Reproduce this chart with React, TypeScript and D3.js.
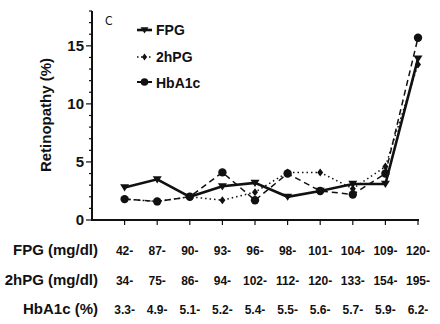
import React from "react";
import * as d3 from "d3";

const fpgLabels = ["42-", "87-", "90-", "93-", "96-", "98-", "101-", "104-", "109-", "120-"];
const hpgLabels = ["34-", "75-", "86-", "94-", "102-", "112-", "120-", "133-", "154-", "195-"];
const hbaLabels = ["3.3-", "4.9-", "5.1-", "5.2-", "5.4-", "5.5-", "5.6-", "5.7-", "5.9-", "6.2-"];

const fpgValues = [2.8, 3.5, 2.0, 2.9, 3.2, 2.0, 2.5, 3.1, 3.1, 13.9];
const hpgValues = [1.8, 1.6, 2.0, 1.7, 2.4, 4.1, 4.1, 2.7, 4.6, 13.4];
const hbaValues = [1.8, 1.6, 2.0, 4.1, 1.7, 4.0, 2.5, 2.2, 4.0, 15.7];

const yTicks = [0, 5, 10, 15];

const W = 440, H = 324;
const FONT = "'Liberation Sans', Arial, Helvetica, sans-serif";

export default function App() {
  const x = d3.scaleLinear().domain([-1, 9]).range([92, 418]);
  const y = d3.scaleLinear().domain([0, 18]).range([220, 11]);
  const idx = d3.range(10);
  const line = (vals: number[]) =>
    d3.line<number>().x((_, i) => x(i)).y((v) => y(v))(vals) || "";

  const tri = (cx: number, cy: number, s = 4.5) =>
    `M${cx - s},${cy - s * 0.7}L${cx + s},${cy - s * 0.7}L${cx},${cy + s * 0.9}Z`;
  const dia = (cx: number, cy: number, w = 3, h = 4) =>
    `M${cx},${cy - h}L${cx + w},${cy}L${cx},${cy + h}L${cx - w},${cy}Z`;

  const minorTicks = d3.range(0, 19);
  const rows = [
    { label: "FPG (mg/dl)", vals: fpgLabels, y: 255 },
    { label: "2hPG (mg/dl)", vals: hpgLabels, y: 284.5 },
    { label: "HbA1c (%)", vals: hbaLabels, y: 313.5 },
  ];

  return (
    <svg width={W} height={H} style={{ position: "absolute", left: 0, top: 0, background: "#fff" }}>
      {/* axes */}
      <line x1={x(-1)} x2={x(-1)} y1={y(18)} y2={y(0) + 1} stroke="#111" strokeWidth={2} />
      <line x1={x(-1) - 1} x2={x(9) + 1} y1={y(0)} y2={y(0)} stroke="#111" strokeWidth={2} />
      {minorTicks.map((t) => (
        <line key={"m" + t} x1={x(-1) - (t % 5 === 0 ? 6 : 3)} x2={x(-1)} y1={y(t)} y2={y(t)} stroke="#111" strokeWidth={1.2} />
      ))}
      {yTicks.map((t) => (
        <text key={"yt" + t} x={84} y={y(t) + 5} textAnchor="end" fontFamily={FONT} fontWeight="bold" fontSize={15} fill="#111">
          {t}
        </text>
      ))}
      {idx.map((i) => (
        <line key={"xt" + i} x1={x(i)} x2={x(i)} y1={y(0)} y2={y(0) + 5} stroke="#111" strokeWidth={1.2} />
      ))}
      <text transform={`translate(51,115) rotate(-90)`} textAnchor="middle" fontFamily={FONT} fontWeight="bold" fontSize={15} fill="#111">
        Retinopathy (%)
      </text>

      {/* lines */}
      <path d={line(hpgValues)} fill="none" stroke="#111" strokeWidth={1.5} strokeDasharray="1.5,3" />
      <path d={line(hbaValues)} fill="none" stroke="#111" strokeWidth={1.5} strokeDasharray="6,4" />
      <path d={line(fpgValues)} fill="none" stroke="#111" strokeWidth={2.6} />

      {/* markers */}
      {hbaValues.map((v, i) => (
        <circle key={"c" + i} cx={x(i)} cy={y(v)} r={4.2} fill="#111" />
      ))}
      {hpgValues.map((v, i) => (
        <path key={"d" + i} d={dia(x(i), y(v))} fill="#111" />
      ))}
      {fpgValues.map((v, i) => (
        <path key={"t" + i} d={tri(x(i), y(v))} fill="#111" />
      ))}

      {/* panel letter */}
      <text x={105} y={25} fontFamily="'DejaVu Sans Condensed', 'DejaVu Sans', sans-serif" fontSize={12} fill="#111">C</text>

      {/* legend */}
      <g>
        <line x1={137} x2={152} y1={30} y2={30} stroke="#111" strokeWidth={2.6} />
        <path d={tri(144.5, 30, 4)} fill="#111" />
        <text x={156} y={35} fontFamily={FONT} fontWeight="bold" fontSize={14} fill="#111">FPG</text>

        <line x1={137} x2={152} y1={57} y2={57} stroke="#111" strokeWidth={1.5} strokeDasharray="1.5,2.5" />
        <path d={dia(144.5, 57, 2.5, 3.5)} fill="#111" />
        <text x={156} y={62} fontFamily={FONT} fontWeight="bold" fontSize={14} fill="#111">2hPG</text>

        <line x1={137} x2={152} y1={82} y2={82} stroke="#111" strokeWidth={2} />
        <circle cx={144.5} cy={82} r={3.8} fill="#111" />
        <text x={156} y={87.5} fontFamily={FONT} fontWeight="bold" fontSize={14} fill="#111">HbA1c</text>
      </g>

      {/* category rows */}
      {rows.map((r) => (
        <g key={r.label}>
          <text x={98} y={r.y} textAnchor="end" fontFamily={FONT} fontWeight="bold" fontSize={15} fill="#111">
            {r.label}
          </text>
          {r.vals.map((v, i) => (
            <text key={i} x={x(i)} y={r.y} textAnchor="middle" fontFamily={FONT} fontWeight="bold" fontSize={12} fill="#111">
              {v}
            </text>
          ))}
        </g>
      ))}
    </svg>
  );
}
